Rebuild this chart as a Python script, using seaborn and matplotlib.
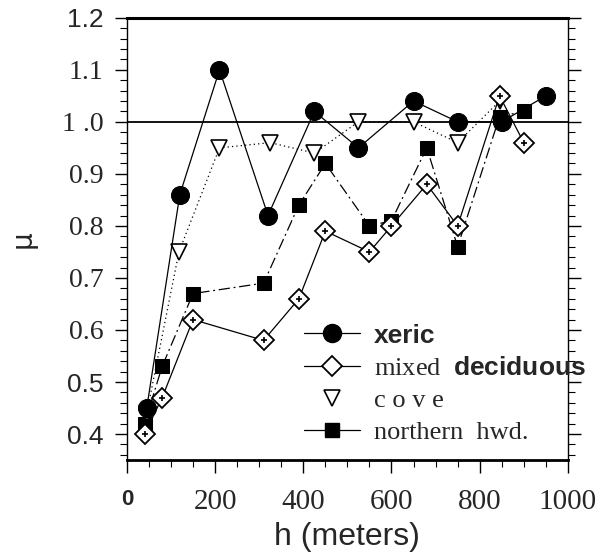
import numpy as np
import pandas as pd
import matplotlib
matplotlib.use("Agg")
import matplotlib.pyplot as plt
from matplotlib.lines import Line2D
from matplotlib.ticker import MultipleLocator
import seaborn as sns

# ---- data ----
xeric_h = [45, 120, 210, 320, 425, 525, 650, 750, 850, 950]
xeric_mu = [0.45, 0.86, 1.10, 0.82, 1.02, 0.95, 1.04, 1.00, 1.00, 1.05]

mixed_h = [40, 80, 150, 310, 390, 450, 550, 600, 680, 750, 845, 900]
mixed_mu = [0.40, 0.47, 0.62, 0.58, 0.66, 0.79, 0.75, 0.80, 0.88, 0.80, 1.05, 0.96]

cove_h = [45, 118, 210, 325, 425, 525, 650, 750, 845]
cove_mu = [0.44, 0.75, 0.95, 0.96, 0.94, 1.00, 1.00, 0.96, 1.04]

north_h = [40, 80, 150, 310, 390, 450, 550, 600, 680, 750, 845, 900]
north_mu = [0.42, 0.53, 0.67, 0.69, 0.84, 0.92, 0.80, 0.81, 0.95, 0.76, 1.01, 1.02]

x_ticks = [0, 200, 400, 600, 800, 1000]
y_ticks = [0.4, 0.5, 0.6, 0.7, 0.8, 0.9, 1.0, 1.1, 1.2]
y_tick_labels = ["0.4", "0.5", "0.6", "0.7", "0.8", "0.9", "1 .0", "1.1", "1.2"]
legend_labels = ["xeric", "mixed  $\\mathsf{deciduous}$", "c o v e", "northern  hwd."]

sns.set_style("ticks")
plt.rcParams['font.family'] = ['Liberation Sans', 'DejaVu Sans']
plt.rcParams['mathtext.fontset'] = 'custom'
plt.rcParams['mathtext.sf'] = 'Liberation Sans:bold'
plt.rcParams['mathtext.rm'] = 'Liberation Serif'

fig = plt.figure(figsize=(6.1, 5.55), dpi=100)
ax = fig.add_axes([0.208, 0.171, 0.723, 0.797])

ax.axhline(1.0, color="black", lw=1.3, zorder=1)

sns.lineplot(x=north_h, y=north_mu, ax=ax, color="black", lw=0.9,
             linestyle=(0, (9, 3, 1.5, 3)), marker="s", markersize=10,
             markerfacecolor="black", markeredgecolor="black", sort=False, zorder=3)
sns.lineplot(x=cove_h, y=cove_mu, ax=ax, color="black", lw=0.9,
             linestyle=(0, (1, 2.5)), marker="v", markersize=12,
             markerfacecolor="white", markeredgecolor="black", markeredgewidth=1.2,
             sort=False, zorder=3)
sns.lineplot(x=mixed_h, y=mixed_mu, ax=ax, color="black", lw=0.9,
             linestyle="-", marker="D", markersize=10,
             markerfacecolor="white", markeredgecolor="black", markeredgewidth=1.3,
             sort=False, zorder=4)
sns.scatterplot(x=mixed_h, y=mixed_mu, ax=ax, color="black", marker="+",
                s=22, linewidth=1.2, zorder=5)
sns.lineplot(x=xeric_h, y=xeric_mu, ax=ax, color="black", lw=0.9,
             linestyle="-", marker="o", markersize=13,
             markerfacecolor="black", markeredgecolor="black", sort=False, zorder=4)

ax.set_xlim(0, 1000)
ax.set_ylim(0.35, 1.2)
ax.set_xticks(x_ticks)
ax.set_yticks(y_ticks)
ax.set_yticklabels(y_tick_labels)
ax.xaxis.set_minor_locator(MultipleLocator(50))
ax.yaxis.set_minor_locator(MultipleLocator(0.02))

ax.tick_params(axis="both", which="major", direction="out", length=9, width=1,
               color="black")
ax.tick_params(axis="both", which="minor", direction="out", length=5, width=0.8,
               color="black")
ax.tick_params(axis="y", which="both", right=True, left=True, labelright=False)
ax.tick_params(axis="x", which="both", top=False, bottom=True)
ax.tick_params(axis="x", which="major", labelsize=21, pad=12)
ax.tick_params(axis="y", which="major", labelsize=20, pad=8)

for lab in ax.get_xticklabels():
    if lab.get_text() == "0":
        lab.set_fontfamily("Liberation Sans")
        lab.set_fontweight("bold")
        lab.set_fontsize(16)
    else:
        lab.set_fontfamily("Liberation Serif")
for lab in ax.get_yticklabels():
    if lab.get_text() in ("0.4", "0.5", "1.2"):
        lab.set_fontfamily("Liberation Sans")
        lab.set_fontsize(19)
    else:
        lab.set_fontfamily("Liberation Serif")

for side in ["left", "right", "top", "bottom"]:
    ax.spines[side].set_visible(True)
    ax.spines[side].set_color("black")
ax.spines["top"].set_linewidth(2.2)
ax.spines["bottom"].set_linewidth(2.0)
ax.spines["left"].set_linewidth(1.0)
ax.spines["right"].set_linewidth(1.0)

ax.set_xlabel("h (meters)", fontsize=23, labelpad=5, family="Liberation Sans")
ax.set_ylabel("\u03bc", fontsize=20, labelpad=18, family="DejaVu Sans")

handles = [
    Line2D([], [], color="black", lw=0.9, marker="o", markersize=13,
           markerfacecolor="black"),
    Line2D([], [], color="black", lw=0.9, marker="D", markersize=10,
           markerfacecolor="white", markeredgewidth=1.3),
    Line2D([], [], color="black", lw=0, marker="v", markersize=12,
           markerfacecolor="white", markeredgewidth=1.2),
    Line2D([], [], color="black", lw=0.9, marker="s", markersize=10,
           markerfacecolor="black"),
]
leg = ax.legend(handles, legend_labels, loc="lower left",
                bbox_to_anchor=(0.378, 0.012), frameon=False, fontsize=19,
                handlelength=2.1, handletextpad=0.55, labelspacing=0.33,
                borderaxespad=0.0)
for i, t in enumerate(leg.get_texts()):
    if i == 0:
        t.set_fontfamily("Liberation Sans")
        t.set_fontweight("bold")
    else:
        t.set_fontfamily("Liberation Serif")

fig.savefig("out.png", dpi=100)
